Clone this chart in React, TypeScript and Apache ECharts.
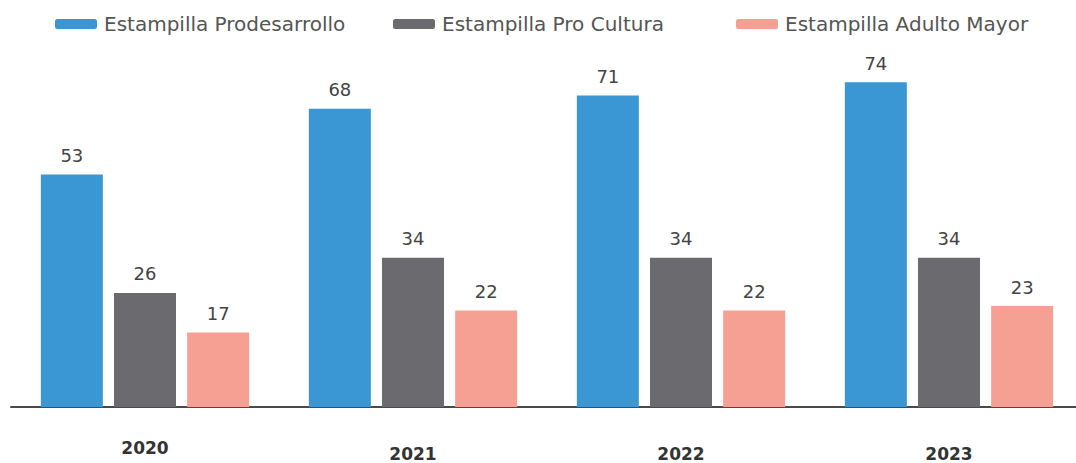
import React, { useEffect, useRef } from "react";
import * as echarts from "echarts";

const categories = ["2020", "2021", "2022", "2023"];
const prodesarrollo = [53, 68, 71, 74];
const proCultura = [26, 34, 34, 34];
const adultoMayor = [17, 22, 22, 23];
const seriesNames = ["Estampilla Prodesarrollo", "Estampilla Pro Cultura", "Estampilla Adulto Mayor"];
const legendLefts = [50, 388, 731];

const FONT = "'DejaVu Sans', sans-serif";

export default function App() {
  const ref = useRef<HTMLDivElement>(null);
  useEffect(() => {
    if (!ref.current) return;
    const chart = echarts.init(ref.current, null, { renderer: "svg" });
    const label = {
      show: true,
      position: "top",
      distance: 10,
      color: "#444",
      fontSize: 18,
      fontFamily: FONT,
    };
    const mk = (name: string, data: number[], color: string) => ({
      name,
      type: "bar",
      data,
      barWidth: 62,
      barGap: "18%",
      itemStyle: { color },
      label,
    });
    chart.setOption({
      animation: false,
      legend: seriesNames.map((n, i) => ({
        left: legendLefts[i],
        top: 9,
        itemWidth: 42,
        itemHeight: 10,
        icon: "roundRect",
        textStyle: { color: "#555", fontSize: 20, fontFamily: FONT, padding: [0, 0, 0, 2] },
        data: [n],
      })),
      grid: { left: 11, right: -7, top: 56, bottom: 56, outerBoundsMode: "none", containLabel: false },
      xAxis: {
        type: "category",
        data: categories,
        axisLine: { show: true, lineStyle: { color: "#4a4a4a", width: 2 } },
        axisTick: { show: false },
        axisLabel: {
          formatter: (v: string) => (v === "2020" ? `{a|${v}}` : `{b|${v}}`),
          rich: {
            a: { fontSize: 17, fontWeight: "bold", color: "#333", fontFamily: FONT, padding: [22, 0, 0, 0] },
            b: { fontSize: 17, fontWeight: "bold", color: "#333", fontFamily: FONT, padding: [28, 0, 0, 0] },
          },
          margin: 10,
        },
      },
      yAxis: {
        type: "value",
        min: 0,
        max: 80,
        show: false,
        splitLine: { show: false },
      },
      series: [
        mk(seriesNames[0], prodesarrollo, "#3a97d4"),
        mk(seriesNames[1], proCultura, "#6b6b6f"),
        mk(seriesNames[2], adultoMayor, "#f5a093"),
      ],
    });
    return () => chart.dispose();
  }, []);
  return <div ref={ref} style={{ width: 1076, height: 463, position: "absolute", left: 0, top: 0 }} />;
}
